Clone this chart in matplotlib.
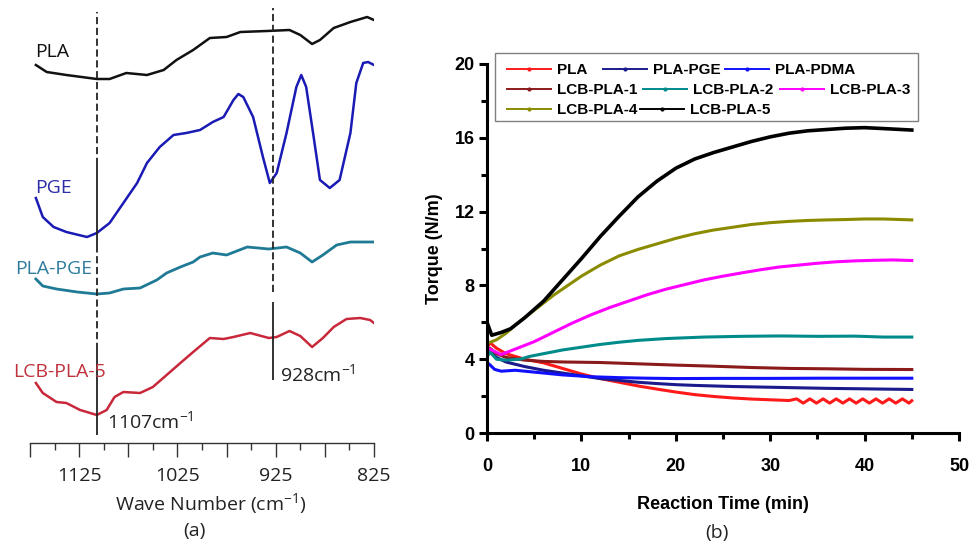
import matplotlib
matplotlib.use("Agg")
import matplotlib.pyplot as plt
from matplotlib.lines import Line2D
from matplotlib.patches import Rectangle
from matplotlib.ticker import MultipleLocator, FixedLocator, FuncFormatter

plt.rcParams['font.family'] = ['Open Sans', 'DejaVu Sans']
plt.rcParams['mathtext.fontset'] = 'custom'
plt.rcParams['mathtext.rm'] = 'Open Sans'

# === (a) FTIR spectra, wave number vs. offset intensity (a.u.) ===
pla_wn = [1169, 1158, 1138, 1107, 1094, 1077, 1056, 1039, 1026, 1009, 992, 975,
          961, 934, 911, 900, 888, 880, 866, 849, 832, 825]
pla_int = [378, 371, 368, 364, 364, 370, 368, 373, 383, 393, 405, 406,
           411, 412, 413, 408, 399, 403, 415, 421, 426, 423]

pge_wn = [1169, 1162, 1151, 1138, 1117, 1107, 1094, 1080, 1066, 1056, 1043, 1029,
          1016, 1002, 989, 978, 968, 963, 958, 948, 938, 931, 924, 914, 904, 899,
          894, 887, 880, 870, 860, 849, 843, 836, 831, 825]
pge_int = [245, 226, 216, 211, 206, 210, 220, 240, 260, 280, 296, 308,
           310, 313, 321, 326, 343, 349, 346, 326, 286, 260, 270, 310, 356, 368,
           356, 310, 263, 255, 263, 310, 360, 380, 381, 378]

plapge_wn = [1169, 1162, 1148, 1127, 1107, 1094, 1080, 1063, 1046, 1036, 1022, 1009,
             1002, 989, 975, 954, 932, 914, 900, 888, 877, 863, 849, 825]
plapge_int = [164, 157, 154, 151, 149, 150, 154, 155, 163, 170, 176, 181,
              186, 190, 188, 196, 194, 196, 190, 181, 188, 198, 201, 201]

lcb5_wn = [1169, 1162, 1148, 1138, 1124, 1107, 1097, 1089, 1080, 1063, 1050, 1036,
           1022, 1009, 992, 978, 968, 951, 932, 924, 911, 900, 888, 877, 866, 853,
           839, 829, 825]
lcb5_int = [60, 50, 41, 40, 33, 28, 33, 46, 51, 50, 56, 68,
            80, 91, 105, 104, 106, 110, 105, 106, 112, 107, 96, 105, 116, 124,
            125, 123, 120]

wn_ticks = [1175, 1125, 1075, 1025, 975, 925, 875, 825]
wn_labels = [1125, 1025, 925, 825]

# marker lines: (segment top, segment bottom, style)
band_1107 = [(431, 278, '--'), (278, 196, '-'), (196, 93, '--'), (93, 8, '-')]
band_928 = [(435, 151, '--'), (141, 63, '-')]

# === (b) torque vs reaction time ===
t_pla = [0, 0.3, 1, 2, 4, 6, 8, 10, 12, 14, 16, 18, 20, 22, 24, 26, 28, 30, 32,
         32.8, 33.5, 34.2, 34.9, 35.6, 36.3, 37.0, 37.7, 38.4, 39.1, 39.8, 40.5,
         41.2, 41.9, 42.6, 43.3, 44.0, 44.7, 45]
y_pla = [4.6, 4.9, 4.6, 4.3, 4.0, 3.8, 3.5, 3.2, 2.95, 2.75, 2.55, 2.38, 2.22, 2.08,
         1.98, 1.9, 1.84, 1.8, 1.76,
         1.85, 1.62, 1.85, 1.62, 1.85, 1.62, 1.85, 1.62, 1.85, 1.62, 1.85, 1.62,
         1.85, 1.62, 1.85, 1.62, 1.85, 1.62, 1.75]

t_pge = [0, 0.3, 1, 2, 4, 6, 8, 10, 12, 14, 16, 18, 20, 22, 24, 26, 28, 30, 33,
         36, 39, 42, 45]
y_pge = [4.3, 4.4, 4.1, 3.85, 3.6, 3.4, 3.25, 3.1, 2.95, 2.85, 2.75, 2.68, 2.62,
         2.58, 2.55, 2.52, 2.5, 2.48, 2.45, 2.42, 2.4, 2.38, 2.36]

t_pdma = [0, 0.2, 0.8, 1.5, 3, 5, 8, 11, 14, 17, 20, 25, 30, 35, 40, 45]
y_pdma = [3.7, 3.75, 3.45, 3.35, 3.4, 3.3, 3.15, 3.05, 3.0, 2.97, 2.95, 2.96,
          2.96, 2.97, 2.97, 2.97]

t_lcb1 = [0, 0.3, 1, 2, 4, 6, 8, 12, 16, 20, 24, 28, 32, 36, 40, 45]
y_lcb1 = [4.4, 4.6, 4.3, 4.1, 3.95, 3.88, 3.85, 3.82, 3.75, 3.68, 3.62, 3.55,
          3.5, 3.48, 3.45, 3.44]

t_lcb2 = [0, 0.3, 1, 2, 3.5, 4.5, 6, 8, 10, 12, 14, 16, 19, 23, 27, 31, 35, 39,
          42, 45]
y_lcb2 = [4.1, 4.4, 4.0, 3.95, 4.0, 4.15, 4.3, 4.5, 4.65, 4.8, 4.92, 5.02, 5.12,
          5.2, 5.24, 5.26, 5.24, 5.25, 5.2, 5.2]

t_lcb3 = [0, 0.05, 0.5, 1.5, 3, 5, 7, 9, 11, 13, 15, 17, 19, 21, 23, 25, 27, 29,
          31, 33, 35, 37, 39, 41, 43, 45]
y_lcb3 = [1.8, 4.6, 4.5, 4.25, 4.55, 4.95, 5.45, 5.95, 6.4, 6.8, 7.15, 7.5, 7.8,
          8.05, 8.3, 8.5, 8.68, 8.85, 9.0, 9.1, 9.2, 9.28, 9.33, 9.36, 9.38, 9.35]

t_lcb4 = [0, 1, 2, 3, 4, 5, 6, 7, 8, 10, 12, 14, 16, 18, 20, 22, 24, 26, 28, 30,
          32, 34, 36, 38, 40, 42, 45]
y_lcb4 = [4.85, 5.05, 5.4, 5.85, 6.25, 6.65, 7.05, 7.45, 7.8, 8.5, 9.1, 9.6,
          9.95, 10.25, 10.55, 10.8, 11.0, 11.15, 11.3, 11.4, 11.47, 11.52, 11.55,
          11.57, 11.6, 11.6, 11.55]

t_lcb5 = [0, 0.5, 1.5, 2.5, 4, 6, 8, 10, 12, 14, 16, 18, 20, 22, 24, 26, 28, 30,
          32, 34, 36, 38, 40, 42, 45]
y_lcb5 = [6.0, 5.3, 5.45, 5.65, 6.25, 7.15, 8.3, 9.45, 10.65, 11.75, 12.8, 13.65,
          14.35, 14.85, 15.2, 15.5, 15.8, 16.05, 16.25, 16.38, 16.45, 16.52, 16.55,
          16.5, 16.42]

series_names = ['PLA', 'PLA-PGE', 'PLA-PDMA', 'LCB-PLA-1', 'LCB-PLA-2',
                'LCB-PLA-3', 'LCB-PLA-4', 'LCB-PLA-5']
series_t = [t_pla, t_pge, t_pdma, t_lcb1, t_lcb2, t_lcb3, t_lcb4, t_lcb5]
series_y = [y_pla, y_pge, y_pdma, y_lcb1, y_lcb2, y_lcb3, y_lcb4, y_lcb5]
series_colors = ['#ff1a1a', '#1a1a8c', '#1010ff', '#8b1a1a', '#008b8b',
                 '#ff00ff', '#8b8b00', '#000000']

W, H = 977, 549
fig = plt.figure(figsize=(W / 100, H / 100), dpi=100)

# ------ panel (a)
ax_a = fig.add_axes([30 / W, 1 - 443 / H, 344 / W, 443 / H])
ax_a.plot(pla_wn, pla_int, color='#111111', lw=1.8)
ax_a.plot(pge_wn, pge_int, color='#1a1ab4', lw=1.8)
ax_a.plot(plapge_wn, plapge_int, color='#1f7a96', lw=2.0)
ax_a.plot(lcb5_wn, lcb5_int, color='#c8283a', lw=1.8)

for wn, segs in [(1107, band_1107), (928, band_928)]:
    for y0, y1, ls in segs:
        ax_a.vlines(wn, y1, y0, colors='#222222', lw=1.3,
                    linestyles=(0, (4, 2)) if ls == '--' else 'solid')

ax_a.set_xlim(1175, 825)
ax_a.set_ylim(0, 443)
for s in ['left', 'top', 'right']:
    ax_a.spines[s].set_visible(False)
ax_a.spines['bottom'].set_linewidth(1.0)
ax_a.spines['bottom'].set_color('#333333')
ax_a.set_yticks([])
ax_a.xaxis.set_major_locator(FixedLocator(wn_ticks))
ax_a.xaxis.set_minor_locator(MultipleLocator(25))
ax_a.xaxis.set_major_formatter(FuncFormatter(
    lambda v, p: f"{int(round(v))}" if int(round(v)) in wn_labels else ""))
ax_a.tick_params(axis='x', which='major', length=10, width=1.0, color='#333333',
                 labelsize=14, pad=7, labelcolor='#222222')
ax_a.tick_params(axis='x', which='minor', length=5, width=1.0, color='#333333')

ax_a.text(1170, 391, 'PLA', fontsize=14, color='#111111', va='center')
ax_a.text(1170, 255, 'PGE', fontsize=14, color='#2d2da8', va='center')
ax_a.text(1190, 174, 'PLA-PGE', fontsize=14, color='#2f7d9c', va='center')
ax_a.text(1192, 71, 'LCB-PLA-5', fontsize=14, color='#c0323c', va='center')
ax_a.text(1097, 21, '1107cm$^{-1}$', fontsize=14, color='#222222', va='center')
ax_a.text(921, 68, '928cm$^{-1}$', fontsize=14, color='#222222', va='center')

fig.text(211 / W, 1 - 504 / H, 'Wave Number (cm$^{-1}$)', fontsize=14,
         color='#222222', ha='center', va='center')
fig.text(194 / W, 1 - 531 / H, '(a)', fontsize=14, color='#222222',
         ha='center', va='center')

# ------ panel (b)
ax_b = fig.add_axes([487 / W, 1 - 433 / H, 472 / W, 369 / H])
for t, y, c in zip(series_t, series_y, series_colors):
    ax_b.plot(t, y, color=c, lw=2.6 if c == '#000000' else 2.2)

ax_b.set_xlim(0, 50)
ax_b.set_ylim(0, 20)
ax_b.spines['top'].set_visible(False)
ax_b.spines['right'].set_visible(False)
for s in ['left', 'bottom']:
    ax_b.spines[s].set_linewidth(2.2)
ax_b.xaxis.set_major_locator(MultipleLocator(10))
ax_b.xaxis.set_minor_locator(MultipleLocator(5))
ax_b.yaxis.set_major_locator(MultipleLocator(4))
ax_b.yaxis.set_minor_locator(MultipleLocator(2))
ax_b.tick_params(which='major', length=6, width=2.2)
ax_b.tick_params(which='minor', length=4, width=2.2)
ax_b.tick_params(axis='x', pad=12)
ax_b.tick_params(axis='y', pad=3)
for lab in ax_b.get_xticklabels() + ax_b.get_yticklabels():
    lab.set_fontfamily('Liberation Sans')
    lab.set_fontweight('bold')
    lab.set_fontsize(13)

ax_b.set_xlabel('Reaction Time (min)', fontsize=13, fontweight='bold',
                family='Liberation Sans', labelpad=15)
ax_b.set_ylabel('Torque (N/m)', fontsize=13, fontweight='bold',
                family='Liberation Sans', labelpad=8)
fig.text(717 / W, 1 - 533 / H, '(b)', fontsize=14, color='#222222',
         ha='center', va='center')

# legend: Origin-style flowing rows, one small legend per entry
legend_spots = [(507, 70), (603, 70), (725, 70),
                (507, 90), (643, 90), (780, 90),
                (507, 110), (640, 110)]
for name, c, (px, py) in zip(series_names, series_colors, legend_spots):
    h = Line2D([], [], color=c, lw=1.4, marker='o', markersize=2)
    fig.legend([h], [name], loc='center left',
               bbox_to_anchor=(px / W, 1 - py / H), frameon=False,
               borderpad=0, borderaxespad=0, handlelength=2.9,
               handletextpad=0.35, numpoints=1,
               prop={'family': 'Liberation Sans', 'weight': 'bold',
                     'size': 11})
fig.patches.append(Rectangle((495 / W, 1 - 121 / H), 423 / W, 68 / H,
                             transform=fig.transFigure, fill=False,
                             edgecolor='#808080', lw=1.0))

fig.savefig('out.png', dpi=100)
